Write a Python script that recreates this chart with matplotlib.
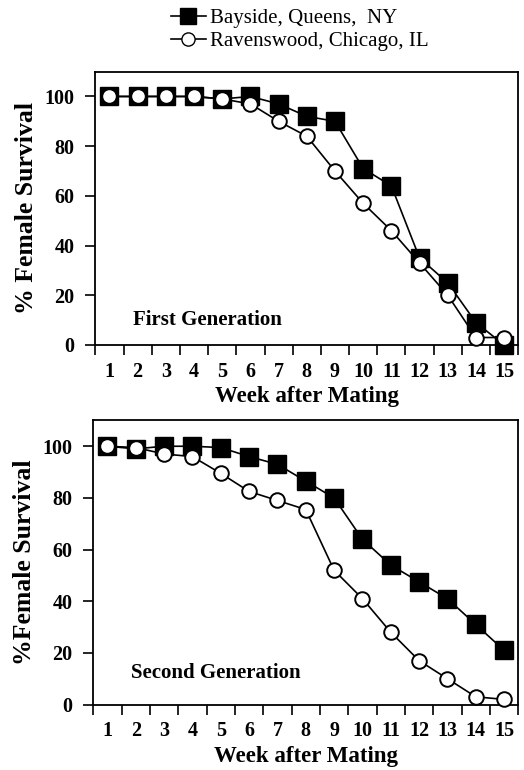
import numpy as np
from matplotlib import pyplot as plt
from matplotlib.lines import Line2D

weeks = np.arange(1, 16)

# First generation survival (%)
bayside_g1 = [100, 100, 100, 100, 99, 100, 97, 92, 90, 71, 64, 35, 25, 9, 0]
ravens_g1 = [100, 100, 100, 100, 99, 97, 90, 84, 70, 57, 46, 33, 20, 3, 3]

# Second generation survival (%)
bayside_g2 = [100, 99, 100, 100, 99.5, 96, 93, 86.5, 80, 64, 54, 47.5, 41, 31, 21]
ravens_g2 = [100, 99.5, 97, 96, 89.5, 82.5, 79, 75.5, 52, 41, 28, 17, 10, 3, 2]

labels = ["Bayside, Queens,  NY", "Ravenswood, Chicago, IL"]
panel_titles = ["First Generation", "Second Generation"]
ylabels = ["% Female Survival", "%Female Survival"]

plt.rcParams['font.family'] = 'Liberation Serif'

fig = plt.figure(figsize=(5.24, 7.70), dpi=100)
ax1 = fig.add_axes([0.182, 0.552, 0.807, 0.355])
ax2 = fig.add_axes([0.178, 0.085, 0.811, 0.369])


def draw(ax, bay, rav, title, ylab, ty):
    ax.plot(weeks, bay, marker="s", color="black", markersize=12.5, linewidth=1.2,
            markerfacecolor="black", clip_on=False, zorder=3)
    ax.plot(weeks, rav, marker="o", color="black", markersize=10.5, linewidth=1.2,
            markerfacecolor="white", markeredgewidth=1.4, clip_on=False, zorder=4)
    ax.set_xlim(0.5, 15.5)
    ax.set_ylim(0, 110)
    # tick marks sit between the weeks, labels on the weeks
    ax.set_xticks(np.arange(0.5, 16, 1))
    ax.set_xticklabels([])
    ax.set_xticks(weeks, minor=True)
    ax.set_xticklabels([str(w) for w in weeks], minor=True, fontweight="bold", fontsize=14.5)
    ax.tick_params(axis="x", which="major", direction="out", length=7, width=1.2)
    ax.tick_params(axis="x", which="minor", length=0, pad=12)
    ax.set_yticks(np.arange(0, 101, 20))
    ax.set_yticklabels([str(v) for v in range(0, 101, 20)], fontweight="bold", fontsize=14.5)
    ax.tick_params(axis="y", direction="out", length=7, width=1.2, pad=8)
    for s in ax.spines.values():
        s.set_linewidth(1.3)
    ax.set_xlabel("Week after Mating", fontweight="bold", fontsize=16.5, labelpad=3.5)
    ax.set_ylabel(ylab, fontweight="bold", fontsize=18.5)
    ax.yaxis.set_label_coords(-0.135, 0.5)
    ax.text(0.088, ty, title, transform=ax.transAxes, fontweight="bold", fontsize=15)


draw(ax1, bayside_g1, ravens_g1, panel_titles[0], ylabels[0], 0.072)
draw(ax2, bayside_g2, ravens_g2, panel_titles[1], ylabels[1], 0.092)

handles = [
    Line2D([], [], marker="s", color="black", markersize=11, markerfacecolor="black", linewidth=1.2),
    Line2D([], [], marker="o", color="black", markersize=9.5, markerfacecolor="white", linewidth=1.2),
]
fig.legend(handles, labels, loc="upper left", bbox_to_anchor=(0.29, 1.013), frameon=False,
           fontsize=15, handlelength=1.7, handletextpad=0.2, labelspacing=0.15)

plt.savefig("out.png", dpi=100)
